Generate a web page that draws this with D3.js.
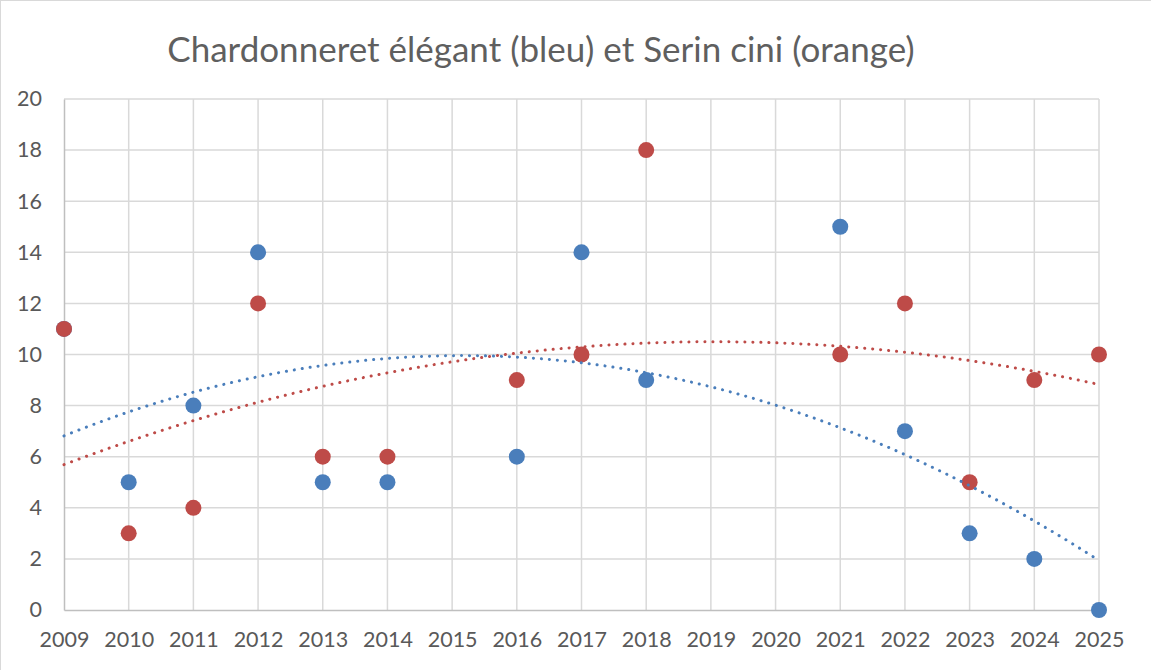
<!DOCTYPE html>
<html>
<head>
<meta charset="utf-8">
<script src="https://cdn.jsdelivr.net/npm/d3@7"></script>
<style>
  body { margin: 0; background: #fff; }
  text { font-family: Lato, "Open Sans", sans-serif; }
</style>
</head>
<body>
<div id="chart"></div>
<script>
// data (blue 2009 sits under the red point)
const chartTitle = "Chardonneret élégant (bleu) et Serin cini (orange)";
const blueYears  = [2009, 2010, 2011, 2012, 2013, 2014, 2016, 2017, 2018, 2021, 2022, 2023, 2024, 2025];
const blueValues = [11, 5, 8, 14, 5, 5, 6, 14, 9, 15, 7, 3, 2, 0];
const redYears   = [2009, 2010, 2011, 2012, 2013, 2014, 2016, 2017, 2018, 2021, 2022, 2023, 2024, 2025];
const redValues  = [11, 3, 4, 12, 6, 6, 9, 10, 18, 10, 12, 5, 9, 10];
const xTicks = d3.range(2009, 2026);
const yTicks = [0, 2, 4, 6, 8, 10, 12, 14, 16, 18, 20];

const blueColor = "#4a7ebb";
const redColor = "#be4b48";

function createChart() {
    const W = 1151, H = 670;
    const margin = { top: 99, right: 52, bottom: 60, left: 64 },
        width = W - margin.left - margin.right,
        height = H - margin.top - margin.bottom;

    const root = d3.select("#chart")
        .append("svg")
        .attr("width", W)
        .attr("height", H);

    // chart border
    root.append("rect")
        .attr("x", 0.5).attr("y", 0.5)
        .attr("width", W + 10).attr("height", H + 10)
        .attr("fill", "#fff")
        .attr("stroke", "#d9d9d9");

    root.append("text")
        .attr("x", 541)
        .attr("y", 62)
        .attr("text-anchor", "middle")
        .style("font-size", "35px")
        .style("fill", "#5f5f5f")
        .text(chartTitle);

    const svg = root.append("g")
        .attr("transform", `translate(${margin.left},${margin.top})`);

    const xScale = d3.scaleLinear().domain([2009, 2025]).range([0, width]);
    const yScale = d3.scaleLinear().domain([0, 20]).range([height, 0]);

    // gridlines
    svg.append("g")
        .selectAll("line.h")
        .data(yTicks.filter(d => d > 0))
        .enter().append("line")
        .attr("x1", 0).attr("x2", width)
        .attr("y1", d => yScale(d)).attr("y2", d => yScale(d))
        .attr("stroke", "#d9d9d9").attr("stroke-width", 1.5);

    svg.append("g")
        .selectAll("line.v")
        .data(xTicks.filter(d => d > 2009))
        .enter().append("line")
        .attr("x1", d => xScale(d)).attr("x2", d => xScale(d))
        .attr("y1", 0).attr("y2", height)
        .attr("stroke", "#d9d9d9").attr("stroke-width", 1.5);

    // axes
    const xAxis = d3.axisBottom(xScale)
        .tickValues(xTicks)
        .tickFormat(d3.format("d"))
        .tickSize(0)
        .tickPadding(22);
    const gx = svg.append("g")
        .attr("transform", `translate(0,${height})`)
        .call(xAxis);
    gx.select(".domain").attr("stroke", "#bfbfbf").attr("stroke-width", 1.5);
    gx.selectAll("text").style("font-size", "21.5px").style("fill", "#595959")
        .style("font-family", "Lato, 'Open Sans', sans-serif");

    const yAxis = d3.axisLeft(yScale)
        .tickValues(yTicks)
        .tickSize(0)
        .tickPadding(22);
    const gy = svg.append("g").call(yAxis);
    gy.select(".domain").attr("stroke", "#bfbfbf").attr("stroke-width", 1.5);
    gy.selectAll("text").style("font-size", "21.5px").style("fill", "#595959")
        .style("font-family", "Lato, 'Open Sans', sans-serif");

    // points: blue first, red drawn over it
    const blueData = blueYears.map((y, i) => ({ x: y, y: blueValues[i] }));
    const redData = redYears.map((y, i) => ({ x: y, y: redValues[i] }));

    svg.selectAll(".blue-point")
        .data(blueData)
        .enter().append("circle")
        .attr("class", "blue-point")
        .attr("cx", d => xScale(d.x))
        .attr("cy", d => yScale(d.y))
        .attr("r", 8)
        .attr("fill", blueColor);

    svg.selectAll(".red-point")
        .data(redData)
        .enter().append("circle")
        .attr("class", "red-point")
        .attr("cx", d => xScale(d.x))
        .attr("cy", d => yScale(d.y))
        .attr("r", 8)
        .attr("fill", redColor);

    // quadratic least-squares trendlines
    function polyFit(data) {
        const x0 = 2009;
        let s = [0, 0, 0, 0, 0], t = [0, 0, 0];
        data.forEach(d => {
            const x = d.x - x0;
            for (let k = 0; k < 5; k++) s[k] += Math.pow(x, k);
            for (let k = 0; k < 3; k++) t[k] += d.y * Math.pow(x, k);
        });
        const A = [[s[0], s[1], s[2], t[0]], [s[1], s[2], s[3], t[1]], [s[2], s[3], s[4], t[2]]];
        for (let i = 0; i < 3; i++) {
            for (let j = i + 1; j < 3; j++) {
                const f = A[j][i] / A[i][i];
                for (let k = i; k < 4; k++) A[j][k] -= f * A[i][k];
            }
        }
        const c = [0, 0, 0];
        for (let i = 2; i >= 0; i--) {
            let v = A[i][3];
            for (let k = i + 1; k < 3; k++) v -= A[i][k] * c[k];
            c[i] = v / A[i][i];
        }
        return x => c[0] + c[1] * (x - x0) + c[2] * (x - x0) * (x - x0);
    }

    const line = d3.line()
        .x(d => xScale(d))
        .curve(d3.curveLinear);
    const xs = d3.range(2009, 2025.001, 0.1);

    [[blueData, blueColor], [redData, redColor]].forEach(([data, color]) => {
        const f = polyFit(data);
        svg.append("path")
            .datum(xs)
            .attr("fill", "none")
            .attr("stroke", color)
            .attr("stroke-width", 3)
            .attr("stroke-linecap", "round")
            .attr("stroke-dasharray", "0.1,7.9")
            .attr("d", line.y(d => yScale(f(d))));
    });
}
createChart();
</script>
</body>
</html>
